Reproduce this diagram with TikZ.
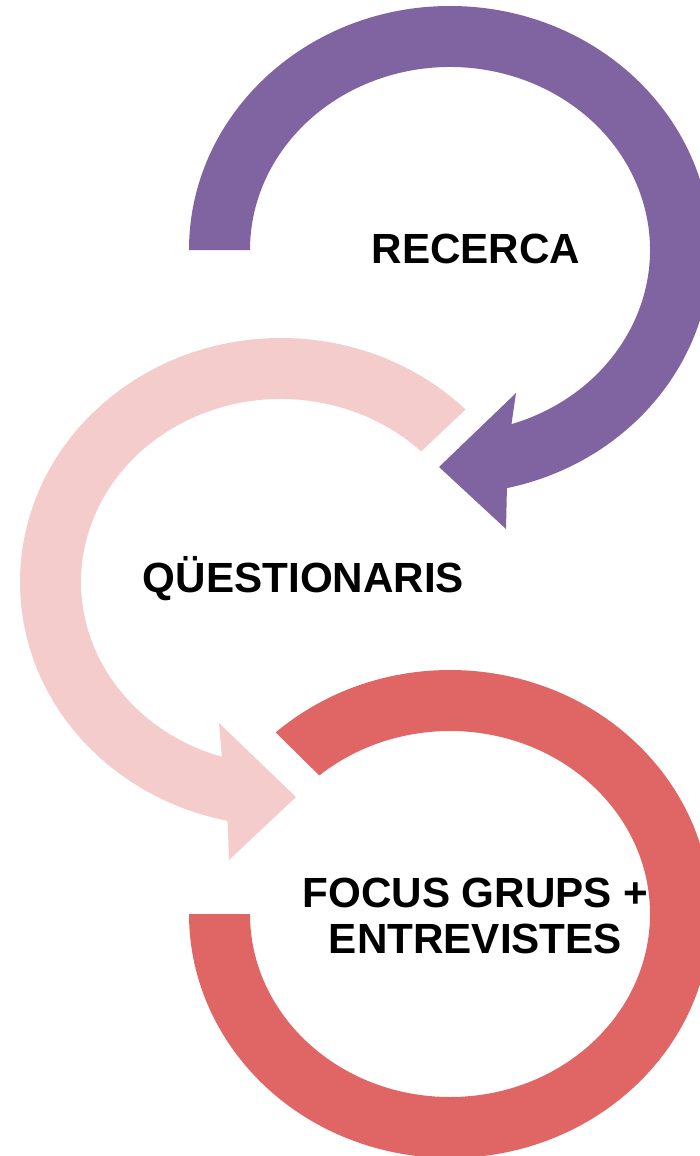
\documentclass[tikz,border=0pt]{standalone}
\usepackage{fontspec}
\setmainfont{Liberation Sans}
\usetikzlibrary{calc}
\definecolor{ringpurple}{HTML}{8064A2}
\definecolor{ringpink}{HTML}{F4CCCC}
\definecolor{ringred}{HTML}{E06666}
\tikzset{
  ring/.style={fill=#1, draw=none},
  steplabel/.style={font=\fontsize{21.1}{23}\selectfont\bfseries, inner sep=0pt, align=center},
}

\begin{document}
\begin{tikzpicture}[x=0.5pt, y=-0.5pt]
        \useasboundingbox (0,0) rectangle (700,1156);
        \clip (0,0) rectangle (700,1156);
        \coordinate (pc) at (450,250);
        \coordinate (pk) at (281,582);
        \coordinate (rd) at (450,914);
        % first ring, arrow head at the bottom
        \fill[ring=ringpurple] ($(pc)+(180:261 and 244)$)
          arc[start angle=180, end angle=437.4, x radius=261, y radius=244]
          -- (506,529) -- (439,467) -- (516,393)
          -- ($(pc)+(432.1:200 and 183)$)
          arc[start angle=432.1, end angle=180, x radius=200, y radius=183] -- cycle;
        % second ring, arrow head at the lower right
        \fill[ring=ringpink] ($(pk)+(-45:261 and 244)$)
          arc[start angle=-45, end angle=-258.2, x radius=261, y radius=244]
          -- (229,860) -- (296,797) -- (219,723)
          -- ($(pk)+(-252.8:200 and 183)$)
          arc[start angle=-252.8, end angle=-45.5, x radius=200, y radius=183] -- cycle;
        % last ring, no head
        \fill[ring=ringred] ($(rd)+(-131.9:261 and 244)$)
          arc[start angle=-131.9, end angle=180, x radius=261, y radius=244]
          -- ($(rd)+(180:200 and 183)$)
          arc[start angle=180, end angle=-130.8, x radius=200, y radius=183] -- cycle;
        \node[steplabel, anchor=base] (recerca) at (476,263) {RECERCA};
        \node[steplabel, anchor=base] (questionaris) at (303.5,592) {QÜESTIONARIS};
        \node[steplabel] (focus) at (475.5,916) {FOCUS GRUPS +\\ENTREVISTES};
\end{tikzpicture}
\end{document}
